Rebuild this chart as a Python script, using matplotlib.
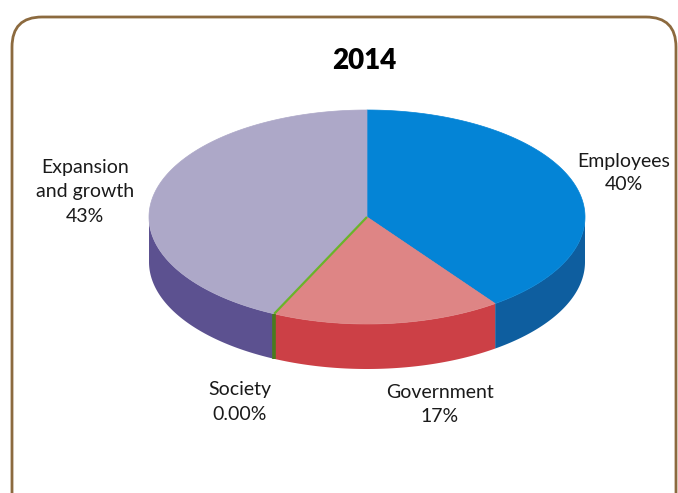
import numpy as np
import matplotlib
matplotlib.use("Agg")
import matplotlib.pyplot as plt
from matplotlib.patches import Polygon, FancyBboxPatch

# chart data (share of 2014, percent), clockwise from 12 o'clock
categories = ["Employees", "Government", "Society", "Expansion\nand growth"]
shares = [40, 17, 0, 43]
share_labels = ["40%", "17%", "0.00%", "43%"]
top_colors = ["#0484d6", "#de8585", "#6ab42a", "#ada8c8"]
side_colors = ["#0e5e9f", "#cc4046", "#4a7a1e", "#5c5190"]

# label anchor points in pixels
label_pos = [(624, 173), (440, 405), (240, 402), (85, 192)]

W, H = 678, 493
fig = plt.figure(figsize=(W / 100, H / 100), dpi=100)
ax = fig.add_axes([0, 0, 1, 1])
ax.set_xlim(0, W)
ax.set_ylim(H, 0)
ax.axis("off")

# rounded frame
frame = FancyBboxPatch((42, 47), 604, 500, boxstyle="round,pad=30",
                       fc="white", ec="#8c6a3f", lw=2)
ax.add_patch(frame)

ax.text(364, 61, "2014", ha="center", va="center", fontsize=20,
        fontweight="heavy", family="Lato")

# 3d pie geometry
cx, cy, a, b, depth = 367, 217, 218, 107, 45


def rim(t1, t2, n=200):
    t = np.radians(np.linspace(t1, t2, n))
    return cx + a * np.cos(t), cy - b * np.sin(t)


angles = [90]
for s in shares:
    angles.append(angles[-1] - s * 3.6)

# side faces (front half only: angles in [-180, 0])
for i in range(len(shares)):
    t1, t2 = angles[i], angles[i + 1]
    s1, s2 = min(t1, 0), max(t2, -180)
    if s1 <= s2:
        continue
    x, y = rim(s1, s2)
    pts = np.column_stack([np.r_[x, x[::-1]], np.r_[y, y[::-1] + depth]])
    ax.add_patch(Polygon(pts, closed=True, fc=side_colors[i], ec="none"))

# top faces
for i in range(len(shares)):
    t1, t2 = angles[i], angles[i + 1]
    if t1 == t2:
        continue
    x, y = rim(t1, t2)
    pts = np.column_stack([np.r_[cx, x], np.r_[cy, y]])
    ax.add_patch(Polygon(pts, closed=True, fc=top_colors[i],
                         ec=top_colors[i], lw=0.5))

# zero share slice shows as a thin sliver
for i, s in enumerate(shares):
    if s == 0:
        t = np.radians(angles[i])
        ex, ey = cx + a * np.cos(t), cy - b * np.sin(t)
        ax.plot([cx, ex], [cy, ey], color=top_colors[i], lw=1.6,
                solid_capstyle="butt")
        ax.plot([ex, ex], [ey, ey + depth], color=side_colors[i], lw=2.6,
                solid_capstyle="butt")

for cat, lab, (lx, ly) in zip(categories, share_labels, label_pos):
    ax.text(lx, ly, cat + "\n" + lab, ha="center", va="center",
            fontsize=14, family="Lato", linespacing=1.5, color="#1a1a1a")

fig.savefig("out.png", dpi=100)
